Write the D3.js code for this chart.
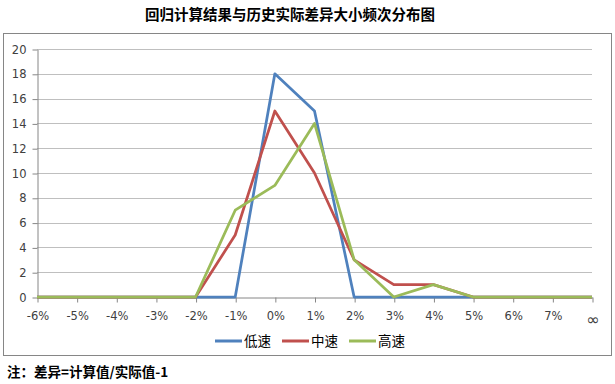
<!DOCTYPE html>
<html>
<head>
<meta charset="utf-8">
<script src="https://cdn.jsdelivr.net/npm/d3@7"></script>
<style>
  body { margin: 0; background: #fff; }
  svg { display: block; }
</style>
</head>
<body>
<div id="chart"></div>
<script>
// categories along x axis
var categories = ["-6%", "-5%", "-4%", "-3%", "-2%", "-1%", "0%", "1%", "2%", "3%", "4%", "5%", "6%", "7%", "∞"];
var yTicks = [0, 2, 4, 6, 8, 10, 12, 14, 16, 18, 20];

var seriesNames = ["低速", "中速", "高速"];
var lowSpeed  = [0, 0, 0, 0, 0, 0, 18, 15, 0, 0, 0, 0, 0, 0, 0];
var midSpeed  = [0, 0, 0, 0, 0, 5, 15, 10, 3, 1, 1, 0, 0, 0, 0];
var highSpeed = [0, 0, 0, 0, 0, 7, 9, 14, 3, 0, 1, 0, 0, 0, 0];
var seriesColors = ["#4F81BD", "#C0504D", "#9BBB59"];

var W = 615, H = 384;
var svg = d3.select("#chart").append("svg")
  .attr("width", W).attr("height", H);

var cjk = "'Noto Sans CJK SC', sans-serif";
var num = "'DejaVu Sans', Verdana, sans-serif";

// title
svg.append("text")
  .attr("x", 290).attr("y", 20)
  .attr("text-anchor", "middle")
  .style("font-family", cjk)
  .style("font-size", "14.5px")
  .style("font-weight", "bold")
  .attr("fill", "#000")
  .text("回归计算结果与历史实际差异大小频次分布图");

// chart frame
svg.append("rect")
  .attr("x", 3.5).attr("y", 33.5)
  .attr("width", 608).attr("height", 322)
  .attr("fill", "none")
  .attr("stroke", "#868686")
  .attr("stroke-width", 1);

var x = d3.scalePoint()
  .domain(categories)
  .range([37, 592]);

var y = d3.scaleLinear()
  .domain([0, 20])
  .range([297, 49]);

// gridlines
svg.append("g")
  .selectAll("line")
  .data(yTicks.slice(1))
  .enter()
  .append("line")
  .attr("x1", 37).attr("x2", 592)
  .attr("y1", function(d) { return Math.round(y(d)) + 0.5; })
  .attr("y2", function(d) { return Math.round(y(d)) + 0.5; })
  .attr("stroke", "#BFBFBF")
  .attr("stroke-width", 1);

// Y axis
var yAxis = svg.append("g")
  .attr("transform", "translate(37.5,0.5)")
  .call(d3.axisLeft(y).tickValues(yTicks).tickSize(5).tickPadding(6).tickSizeOuter(0));
yAxis.select(".domain").attr("stroke", "#868686");
yAxis.selectAll(".tick line").attr("stroke", "#868686");
yAxis.selectAll(".tick text")
  .style("font-family", num)
  .style("font-size", "11.5px")
  .attr("fill", "#404040");

// X axis
var xAxis = svg.append("g")
  .attr("transform", "translate(0.5,297.5)")
  .call(d3.axisBottom(x).tickSize(5).tickPadding(9).tickSizeOuter(0));
xAxis.select(".domain").attr("stroke", "#868686");
xAxis.selectAll(".tick line").attr("stroke", "#868686");
xAxis.selectAll(".tick text")
  .style("font-family", num)
  .style("font-size", function(d) { return d === "∞" ? "16px" : "11.5px"; })
  .attr("fill", "#404040")
  .attr("dy", function(d) { return d === "∞" ? "0.85em" : "0.71em"; });

// lines
var allSeries = [lowSpeed, midSpeed, highSpeed];
var line = d3.line()
  .x(function(d, i) { return x(categories[i]); })
  .y(function(d) { return y(d); });

svg.append("g")
  .selectAll("path")
  .data(allSeries)
  .enter()
  .append("path")
  .attr("d", line)
  .attr("fill", "none")
  .attr("stroke", function(d, i) { return seriesColors[i]; })
  .attr("stroke-width", 2.75)
  .attr("stroke-linejoin", "round");

// legend
var legendX = [215, 282, 349];
var legend = svg.append("g")
  .selectAll("g")
  .data(seriesNames)
  .enter()
  .append("g")
  .attr("transform", function(d, i) { return "translate(" + legendX[i] + ",341)"; });
legend.append("line")
  .attr("x1", 0).attr("x2", 27)
  .attr("stroke", function(d, i) { return seriesColors[i]; })
  .attr("stroke-width", 3);
legend.append("text")
  .attr("x", 29).attr("y", 5)
  .style("font-family", cjk)
  .style("font-size", "13.5px")
  .attr("fill", "#000")
  .text(function(d) { return d; });

// footnote
svg.append("text")
  .attr("x", 7).attr("y", 377)
  .style("font-family", cjk)
  .style("font-size", "13.5px")
  .style("font-weight", "bold")
  .attr("fill", "#000")
  .text("注：差异=计算值/实际值-1");
</script>
</body>
</html>
